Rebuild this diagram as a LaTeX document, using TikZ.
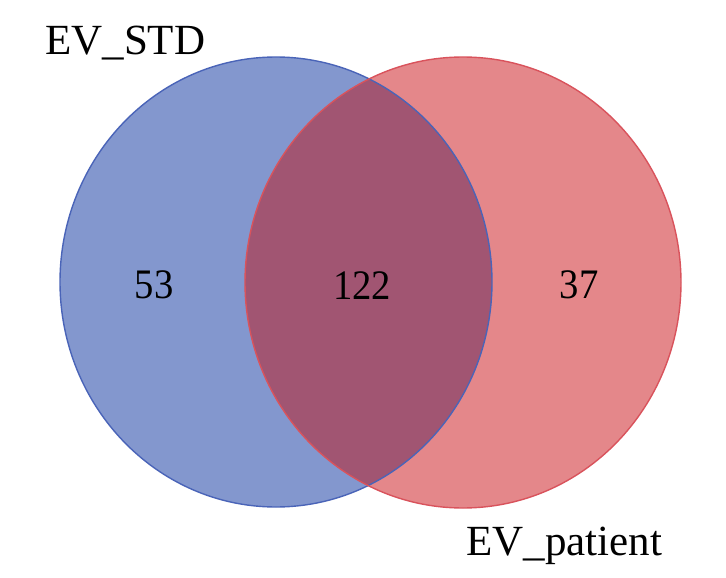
\documentclass[tikz,border=0pt]{standalone}
\usepackage{fontspec}
\setmainfont{Liberation Serif}
\definecolor{bluefill}{RGB}{131,151,206}
\definecolor{blueline}{RGB}{74,100,184}
\definecolor{redfill}{RGB}{228,135,138}
\definecolor{redline}{RGB}{217,83,92}
\definecolor{overlapfill}{RGB}{161,85,114}
\begin{document}
\begin{tikzpicture}[x=1pt,y=-1pt,
  lbl/.style={inner sep=0pt,font=\fontsize{42}{50}\selectfont,text=black,xscale=0.92},
  setlbl/.style={inner sep=0pt,font=\fontsize{43}{50}\selectfont,text=black},
  border/.style={line width=1.4pt}]
\useasboundingbox (0,0) rectangle (726,578);
\fill[white] (0,0) rectangle (726,578);
\fill[bluefill] (276,282) ellipse [x radius=216, y radius=225];
\fill[redfill] (463,282.5) ellipse [x radius=218, y radius=225.5];
\begin{scope}
  \clip (276,282) ellipse [x radius=216, y radius=225];
  \fill[overlapfill] (463,282.5) ellipse [x radius=218, y radius=225.5];
\end{scope}
\draw[border,blueline] (276,282) ellipse [x radius=216, y radius=225];
\draw[border,redline] (463,282.5) ellipse [x radius=218, y radius=225.5];
\node[lbl] (n53) at (154,285) {53};
\node[lbl] (n122) at (362,286) {122};
\node[lbl] (n37) at (579,285) {37};
\node[setlbl,anchor=base west] (std) at (45,55) {EV\_STD};
\node[setlbl,anchor=base west] (pat) at (466,555) {EV\_patient};
\end{tikzpicture}
\end{document}
